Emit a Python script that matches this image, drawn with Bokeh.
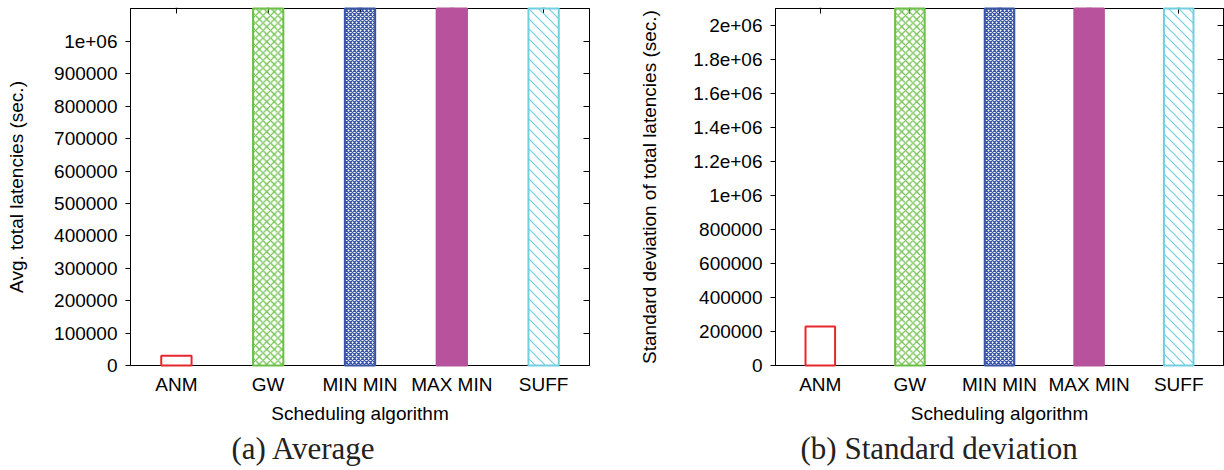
import base64
from bokeh.plotting import figure
from bokeh.models import (FactorRange, Range1d, FixedTicker, LinearAxis, CategoricalAxis,
                          Title, ColumnDataSource, ImageURLTexture)
from bokeh.layouts import row
from bokeh.embed import file_html
from bokeh.resources import INLINE

# ---------------- data ----------------
algorithms = ["ANM", "GW", "MIN MIN", "MAX MIN", "SUFF"]
# Only ANM is readable; the other bars run off the top of both plots (values above the axis max)
avg_latency = [30000, 1600000, 1800000, 2000000, 1700000]
std_latency = [230000, 3000000, 3300000, 3600000, 3100000]

avg_ticks = [0, 100000, 200000, 300000, 400000, 500000, 600000, 700000, 800000, 900000, 1000000]
avg_tick_labels = ["0", "100000", "200000", "300000", "400000", "500000", "600000",
                   "700000", "800000", "900000", "1e+06"]
std_ticks = [0, 200000, 400000, 600000, 800000, 1000000, 1200000, 1400000, 1600000,
             1800000, 2000000]
std_tick_labels = ["0", "200000", "400000", "600000", "800000", "1e+06", "1.2e+06",
                   "1.4e+06", "1.6e+06", "1.8e+06", "2e+06"]

bar_colors = ["#e8262d", "#6cbf48", "#3b55a6", "#b8529c", "#70cfe0"]
bar_fill_alpha = [0, 0, 0, 1, 0]
bar_hatch = [" ", "x", "x", " ", "suff"]
bar_hatch_scale = [8, 7.5, 4, 8, 8]
bar_hatch_weight = [1, 1.2, 1.3, 1, 1]

FONT = "Liberation Sans"

# 45-degree "\" line texture for SUFF (tile 10x10)
_tile = ('<svg xmlns="http://www.w3.org/2000/svg" width="10" height="10">'
         '<path d="M-1,-1 L11,11 M-1,9 L1,11 M9,-1 L11,1" stroke="#70cfe0" '
         'stroke-width="1.2" fill="none"/></svg>')
_tile_url = "data:image/svg+xml;base64," + base64.b64encode(_tile.encode()).decode()


def make_panel(values, ticks, tick_labels, ymax, ylabel, caption, width,
               border_left, border_right, cap_offset, label_standoff):
    p = figure(x_range=FactorRange(*algorithms), y_range=Range1d(0, ymax),
               width=width, height=470, output_backend="svg", toolbar_location=None,
               min_border_left=border_left, min_border_right=border_right,
               min_border_top=8, min_border_bottom=105)
    p.x_range.range_padding = 0
    p.xgrid.visible = False
    p.ygrid.visible = False
    p.outline_line_color = "black"
    p.outline_line_width = 1
    p.background_fill_color = "white"
    p.border_fill_color = "white"

    src = ColumnDataSource(dict(x=algorithms, top=values, color=bar_colors,
                                alpha=bar_fill_alpha, hatch=bar_hatch,
                                hscale=bar_hatch_scale, hweight=bar_hatch_weight))
    r = p.vbar(x="x", top="top", bottom=0, width=0.33, source=src,
               line_color="color", line_width=2, fill_color="color", fill_alpha="alpha",
               hatch_pattern="hatch", hatch_color="color", hatch_scale="hscale",
               hatch_weight="hweight",
               hatch_extra={"suff": ImageURLTexture(url=_tile_url, repetition="repeat")})
    r.level = "overlay"

    # left axis
    ya = p.yaxis[0]
    ya.ticker = FixedTicker(ticks=ticks)
    ya.major_label_overrides = {t: l for t, l in zip(ticks, tick_labels)}
    ya.major_label_text_font = FONT
    ya.major_label_text_font_size = "19px"
    ya.major_label_text_color = "black"
    ya.major_tick_out = 5
    ya.major_tick_in = 0
    ya.minor_tick_out = 0
    ya.minor_tick_in = 0
    ya.major_label_standoff = 8
    ya.axis_label = ylabel
    ya.axis_label_text_font = FONT
    ya.axis_label_text_font_size = "19px"
    ya.axis_label_text_font_style = "normal"
    ya.axis_label_text_color = "black"
    ya.axis_label_standoff = label_standoff
    ya.axis_line_color = "black"
    ya.major_tick_line_color = "black"

    # bottom axis
    xa = p.xaxis[0]
    xa.major_label_text_font = FONT
    xa.major_label_text_font_size = "19px"
    xa.major_label_text_color = "black"
    xa.major_tick_out = 0
    xa.major_tick_in = 0
    xa.major_label_standoff = 8
    xa.axis_label = "Scheduling algorithm"
    xa.axis_label_text_font = FONT
    xa.axis_label_text_font_size = "19px"
    xa.axis_label_text_font_style = "normal"
    xa.axis_label_text_color = "black"
    xa.axis_label_standoff = 5
    xa.axis_line_color = "black"

    # mirrored right axis (ticks only)
    ra = LinearAxis(ticker=FixedTicker(ticks=ticks),
                    major_label_overrides={t: "" for t in ticks},
                    major_label_text_font_size="1px",
                    major_label_standoff=0, major_tick_in=6, major_tick_out=0,
                    minor_tick_in=0, minor_tick_out=0, axis_line_color="black")
    p.add_layout(ra, "right")
    # mirrored top axis (ticks only)
    ta = CategoricalAxis(major_label_overrides={a: "" for a in algorithms},
                         major_label_text_font_size="1px", major_label_standoff=0,
                         major_tick_in=5, major_tick_out=0, axis_line_color="black")
    p.add_layout(ta, "above")

    t = Title(text=caption, align="left", offset=cap_offset,
              text_font="Liberation Serif", text_font_size="31px",
              text_font_style="normal", text_color="#222222", standoff=4)
    p.add_layout(t, "below")
    return p


p1 = make_panel(avg_latency, avg_ticks, avg_tick_labels, 1102000,
                "Avg. total latencies (sec.)", "(a) Average",
                620, 130, 31, 101, 24)
p2 = make_panel(std_latency, std_ticks, std_tick_labels, 2100000,
                "Standard deviation of total latencies (sec.)", "(b) Standard deviation",
                604, 155, 1, 25, 30)

layout = row(p1, p2, spacing=0)
open("out.html", "w").write(file_html(layout, INLINE))
